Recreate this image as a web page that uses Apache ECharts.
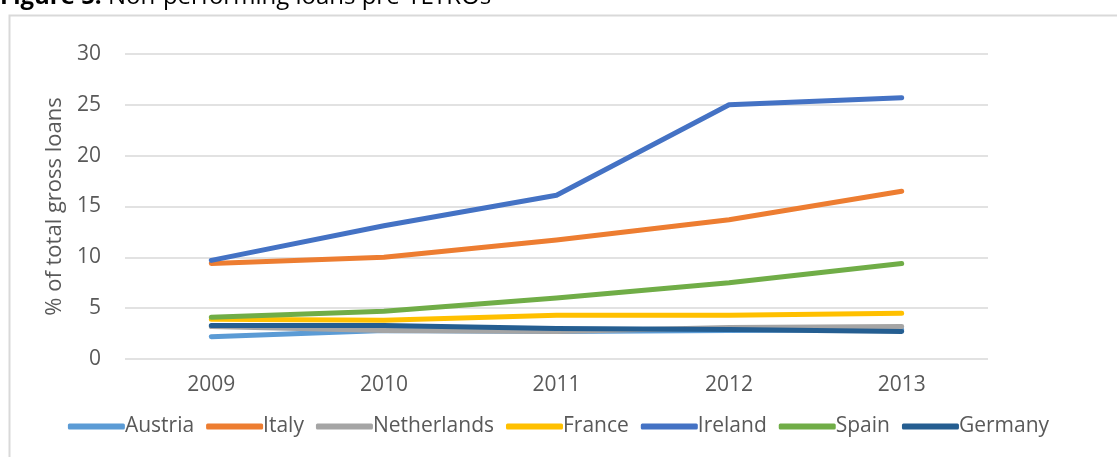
<!DOCTYPE html>
<html><head><meta charset="utf-8">
<script src="https://cdn.jsdelivr.net/npm/echarts@6/dist/echarts.min.js"></script>
<style>html,body{margin:0;padding:0;background:#fff}#c{width:1117px;height:457px}</style>
</head><body><div id="c"></div>
<script>
const years = ['2009','2010','2011','2012','2013'];
const austria = [2.2, 2.8, 2.7, 2.8, 2.9];
const italy = [9.4, 10.0, 11.7, 13.7, 16.5];
const netherlands = [3.2, 2.8, 2.7, 3.1, 3.2];
const france = [3.9, 3.8, 4.3, 4.3, 4.5];
const ireland = [9.7, 13.1, 16.1, 25.0, 25.7];
const spain = [4.1, 4.7, 6.0, 7.5, 9.4];
const germany = [3.3, 3.3, 3.0, 2.9, 2.7];
const yTicks = [0, 5, 10, 15, 20, 25, 30];

const seriesDefs = [
  ['Austria', austria, '#5b9bd5'],
  ['Italy', italy, '#ed7d31'],
  ['Netherlands', netherlands, '#a5a5a5'],
  ['France', france, '#ffc000'],
  ['Ireland', ireland, '#4472c4'],
  ['Spain', spain, '#70ad47'],
  ['Germany', germany, '#255e91']
];
const font = '"Open Sans", sans-serif';
const chart = echarts.init(document.getElementById('c'));
chart.setOption({
  animation: false,
  backgroundColor: '#fff',
  graphic: [
    {type: 'rect', shape: {x: 9.5, y: 15.5, width: 1200, height: 500}, style: {fill: 'none', stroke: '#d9d9d9', lineWidth: 2}, silent: true},
    {type: 'text', left: 0, top: -15, style: {
      text: '{b|Figure 5:} Non-performing loans pre-TLTROs',
      rich: {b: {fontWeight: 'bold', fontSize: 24, fontFamily: font, fill: '#000'}},
      fontSize: 24, fontFamily: font, fill: '#000'}}
  ],
  grid: {left: 125, right: 129, top: 54, bottom: 98},
  legend: {
    top: 411, left: 'center', itemWidth: 57, itemHeight: 6, itemGap: 12,
    icon: 'roundRect',
    textStyle: {fontSize: 21, color: '#595959', fontFamily: font, padding: [0,0,0,-5]},
    data: seriesDefs.map(d => d[0])
  },
  xAxis: {
    type: 'category', data: years, boundaryGap: true,
    axisLine: {show: false}, axisTick: {show: false},
    axisLabel: {fontSize: 21, color: '#595959', fontFamily: font, margin: 16}
  },
  yAxis: {
    type: 'value', min: yTicks[0], max: yTicks[yTicks.length-1], interval: 5,
    name: '% of total gross loans', nameLocation: 'middle', nameGap: 56, nameRotate: 90,
    nameTextStyle: {fontSize: 22, color: '#595959', fontFamily: font},
    axisLabel: {fontSize: 21, color: '#595959', fontFamily: font, margin: 24},
    splitLine: {lineStyle: {color: '#d9d9d9', width: 1.5}},
    axisLine: {show: false}, axisTick: {show: false}
  },
  series: seriesDefs.map(d => ({
    name: d[0], type: 'line', data: d[1], symbol: 'none',
    lineStyle: {color: d[2], width: 5, cap: 'round', join: 'round'},
    itemStyle: {color: d[2]}
  }))
});
</script></body></html>
